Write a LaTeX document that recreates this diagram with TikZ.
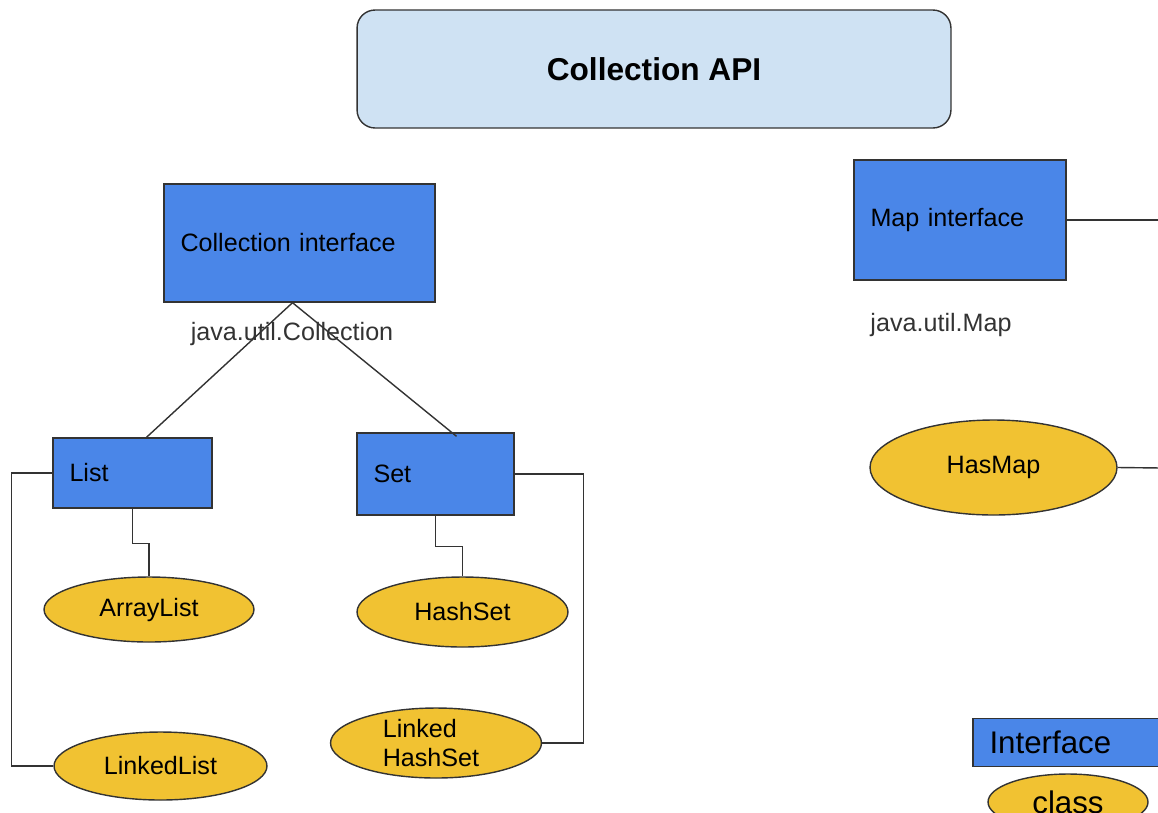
\documentclass[tikz,border=0pt]{standalone}
\usepackage{fontspec}
\setmainfont{Liberation Sans}
\usetikzlibrary{shapes.geometric,calc}

\definecolor{ifblue}{HTML}{4A86E8}
\definecolor{clsyellow}{HTML}{F1C232}
\definecolor{titleblue}{HTML}{CFE2F3}
\definecolor{edgegray}{HTML}{333333}

\begin{document}
\begin{tikzpicture}[x=0.02cm, y=-0.02cm,
    ifbox/.style={rectangle, draw=edgegray, fill=ifblue, line width=0.8pt,
      inner xsep=0.33cm, align=left, font=\fontsize{14.3}{17}\selectfont},
    clsnode/.style={ellipse, draw=edgegray, fill=clsyellow, line width=0.8pt,
      inner sep=0pt, align=left, font=\fontsize{14.3}{17}\selectfont},
    pkglabel/.style={text=edgegray, font=\fontsize{14.3}{17}\selectfont},
    link/.style={draw=edgegray, line width=0.8pt}]

  \useasboundingbox (0,0) rectangle (1158,812);
  \clip (0,0) rectangle (1158,812);

  % --- Title ---
  \node[rectangle, rounded corners=0.36cm, draw=edgegray, fill=titleblue,
    line width=0.8pt, minimum width=11.88cm, minimum height=2.36cm,
    font=\fontsize{18}{22}\selectfont\bfseries]
    (title) at (654,69) {Collection API};

  % --- Collection side ---
  \node[ifbox, minimum width=5.42cm, minimum height=2.36cm, text width=4.76cm]
    (coll) at (299.5,243) {Collection interface};
  \node[pkglabel] (collpkg) at (292,334) {java.util.Collection};

  \node[ifbox, minimum width=3.18cm, minimum height=1.40cm, text width=2.52cm]
    (list) at (132.5,473) {List};
  \node[ifbox, minimum width=3.14cm, minimum height=1.64cm, text width=2.48cm]
    (set) at (435.5,474) {Set};

  \node[clsnode, minimum width=4.2cm, minimum height=1.3cm]
    (arrlist) at (149,609.5) {ArrayList};
  \node[clsnode, minimum width=4.26cm, minimum height=1.36cm]
    (lnklist) at (160.5,766) {LinkedList};
  \node[clsnode, minimum width=4.22cm, minimum height=1.4cm]
    (hashset) at (462.5,612) {HashSet};
  \node[clsnode, minimum width=4.22cm, minimum height=1.4cm]
    (lnkhashset) at (436,743) {\hspace*{-0.2cm}Linked\\\hspace*{-0.2cm}HashSet};

  \draw[link] ($(coll.south)+(-7,0)$) -- ($(list.north)+(14,0)$);
  \draw[link] ($(coll.south)+(-7,0)$) -- ($(set.north)+(21,4)$);
  \draw[link] (list.south) -- ++(0,35) -| (arrlist.north);
  \draw[link] (list.west) -- ++(-41,0) |- (lnklist.west);
  \draw[link] (set.south) -- ++(0,31) -| (hashset.north);
  \draw[link] (set.east) -- ++(69,0) |- (lnkhashset.east);

  % --- Map side ---
  \node[ifbox, minimum width=4.24cm, minimum height=2.40cm, text width=3.58cm]
    (map) at (960,220) {Map interface};
  \node[pkglabel] (mappkg) at (941,325) {java.util.Map};
  \node[clsnode, minimum width=4.94cm, minimum height=1.9cm]
    (hasmap) at (993.5,467.5) {HasMap};

  \coordinate (mapend) at (1162,220);
  \coordinate (hasmapend) at (1162,468);
  \draw[link] (map.east) -- (mapend);
  \draw[link] (hasmap.east) -- (hasmapend);

  % --- Legend ---
  \node[ifbox, minimum width=4.54cm, minimum height=0.96cm, text width=3.88cm,
    font=\fontsize{17.8}{21}\selectfont]
    (legif) at (1086.5,742.5) {Interface};
  \node[clsnode, minimum width=3.2cm, minimum height=1.12cm,
    font=\fontsize{17.8}{21}\selectfont]
    (legcls) at (1068,802) {class};

\end{tikzpicture}
\end{document}
